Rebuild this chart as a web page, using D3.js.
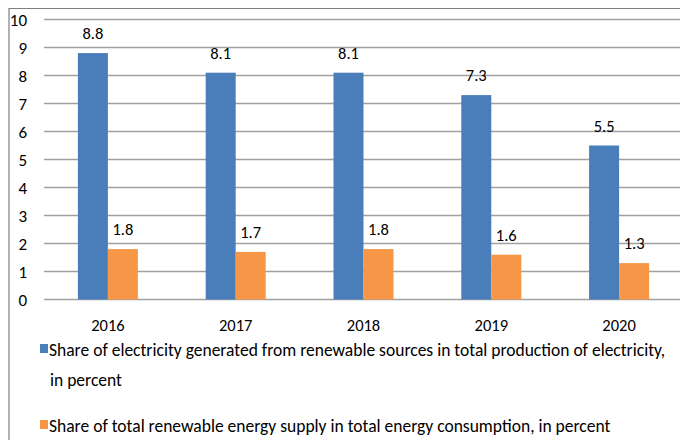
<!DOCTYPE html>
<html>
<head>
<meta charset="utf-8">
<script src="https://cdn.jsdelivr.net/npm/d3@7"></script>
<style>
  body { margin: 0; background: #fff; }
  text { font-family: Carlito, "Liberation Sans Narrow", "Open Sans", sans-serif; fill: #000; }
</style>
</head>
<body>
<svg id="chart" width="680" height="440"></svg>
<script>
// Renewable shares by year
const years = ["2016", "2017", "2018", "2019", "2020"];
const electricityShare = [8.8, 8.1, 8.1, 7.3, 5.5];
const energyShare = [1.8, 1.7, 1.8, 1.6, 1.3];
const seriesNames = [
  ["Share of electricity generated from renewable sources in total production of electricity,", "in percent"],
  ["Share of total renewable energy supply in total energy consumption, in percent"]
];
const colors = ["#4a7ebb", "#f79646"];
const yTicks = [0, 1, 2, 3, 4, 5, 6, 7, 8, 9, 10];

const svg = d3.select("#chart");

// outer frame (top and left edges visible)
svg.append("path")
  .attr("d", "M9,440 V8.5 H680")
  .attr("fill", "none")
  .attr("stroke", "#7f7f7f")
  .attr("stroke-width", 1.2);

const x = d3.scaleBand().domain(years).range([44, 683]);
const y = d3.scaleLinear().domain([0, 10]).range([299.5, 19.5]);
const barW = 30;

// gridlines
svg.append("g")
  .selectAll("line")
  .data(yTicks)
  .join("line")
  .attr("x1", 44)
  .attr("x2", 680)
  .attr("y1", d => y(d))
  .attr("y2", d => y(d))
  .attr("stroke", "#a0a0a0")
  .attr("stroke-width", 1.4);

// y tick labels
svg.append("g")
  .selectAll("text")
  .data(yTicks)
  .join("text")
  .attr("x", 27)
  .attr("y", d => y(d) + 6)
  .attr("text-anchor", "end")
  .attr("font-size", "17px")
  .text(d => d);

const series = [electricityShare, energyShare];

series.forEach((vals, si) => {
  const g = svg.append("g");
  const bx = (d, i) => x(years[i]) + x.bandwidth() / 2 - barW + si * barW;
  g.selectAll("rect")
    .data(vals)
    .join("rect")
    .attr("x", bx)
    .attr("y", d => y(d))
    .attr("width", barW)
    .attr("height", d => y(0) - y(d))
    .attr("fill", colors[si]);
  g.selectAll("text")
    .data(vals)
    .join("text")
    .attr("x", (d, i) => bx(d, i) + barW / 2)
    .attr("y", d => y(d) - 14)
    .attr("text-anchor", "middle")
    .attr("font-size", "16.5px")
    .text(d => d.toFixed(1));
});

// year labels
svg.append("g")
  .selectAll("text")
  .data(years)
  .join("text")
  .attr("x", d => x(d) + x.bandwidth() / 2)
  .attr("y", 331)
  .attr("text-anchor", "middle")
  .attr("font-size", "16.5px")
  .text(d => d);

// legend
const legendRows = [350, 426];
seriesNames.forEach((lines, i) => {
  const ly = legendRows[i];
  svg.append("rect")
    .attr("x", 40)
    .attr("y", ly - 6)
    .attr("width", 8)
    .attr("height", 9)
    .attr("fill", colors[i]);
  lines.forEach((t, j) => {
    svg.append("text")
      .attr("x", 49 + (j ? 1 : 0))
      .attr("y", ly + 6 + j * 30)
      .attr("font-size", "17.5px")
      .text(t);
  });
});
</script>
</body>
</html>
